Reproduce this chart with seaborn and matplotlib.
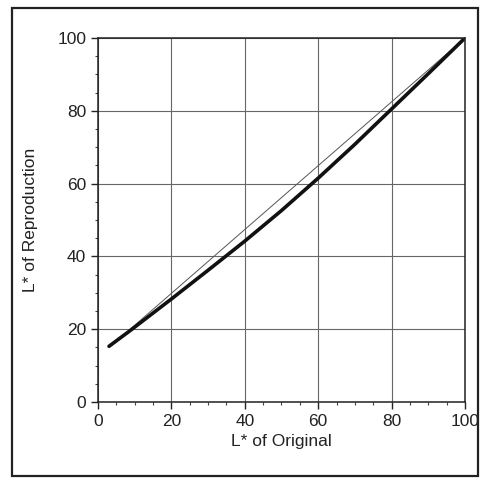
#!/usr/bin/env python3

from matplotlib import pyplot as plt
from matplotlib.patches import Rectangle
from matplotlib.ticker import MultipleLocator
import pandas as pd
import seaborn as sns

# thick curve: reproduction vs original
orig_l = [3, 9, 20, 30, 40, 50, 60, 70, 80, 90, 100]
repro_l = [15.3, 19.8, 28.3, 36.2, 44.2, 52.6, 61.5, 70.8, 80.5, 90.2, 100]
# thin reference line
ref_x = [9, 100]
ref_y = [20.2, 100]

df = pd.DataFrame({"orig": orig_l, "repro": repro_l})
ref = pd.DataFrame({"x": ref_x, "y": ref_y})

sns.set_style("ticks")
plt.rcParams["font.family"] = ["Liberation Sans", "DejaVu Sans"]

fig = plt.figure(figsize=(4.82, 4.8), dpi=100)
ax = fig.add_axes([0.2033, 0.1625, 0.7614, 0.7583])

sns.lineplot(data=ref, x="x", y="y", ax=ax, color="#555555", linewidth=0.7)
sns.lineplot(data=df, x="orig", y="repro", ax=ax, color="#111111", linewidth=2.6)

ax.set_xlim(0, 100)
ax.set_ylim(0, 100)
ax.xaxis.set_major_locator(MultipleLocator(20))
ax.yaxis.set_major_locator(MultipleLocator(20))
ax.xaxis.set_minor_locator(MultipleLocator(5))
ax.yaxis.set_minor_locator(MultipleLocator(5))
ax.grid(True, which="major", color="#666666", linewidth=0.8)
ax.set_axisbelow(True)
ax.tick_params(which="major", direction="out", length=5, width=1, labelsize=12.5, colors="#222222")
ax.tick_params(which="minor", direction="out", length=2.5, width=0.8, colors="#444444")
for s in ax.spines.values():
    s.set_color("#222222")
    s.set_linewidth(1.1)

ax.set_xlabel("L* of Original", fontsize=12.5, color="#222222", labelpad=4)
ax.set_ylabel("L* of Reproduction", fontsize=12.5, color="#222222", labelpad=14)

# outer frame around figure
fig.patches.append(Rectangle((0.025, 0.008), 0.967, 0.975, transform=fig.transFigure,
                             fill=False, edgecolor="#222222", linewidth=1.6))

fig.savefig("out.png", dpi=100)
